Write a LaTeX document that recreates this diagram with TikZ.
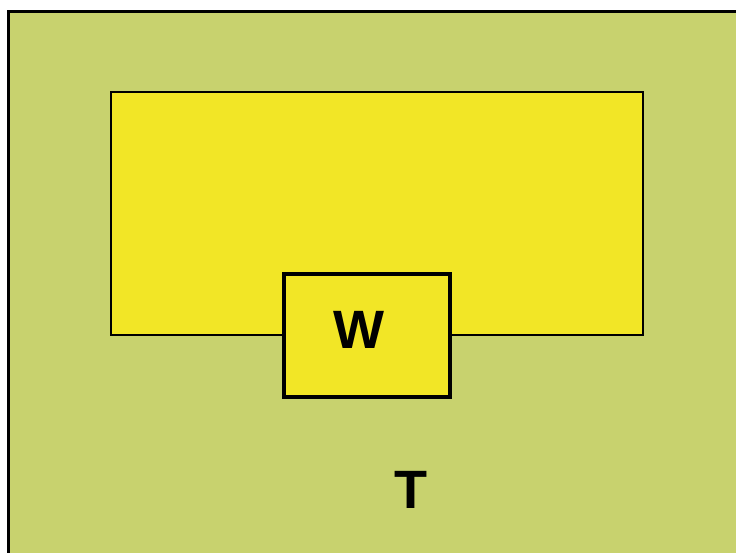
\documentclass[tikz,border=0pt]{standalone}
\usepackage{fontspec}
\setmainfont{Liberation Sans}
\definecolor{bggreen}{RGB}{200,210,110}
\definecolor{boxyellow}{RGB}{242,230,38}
\begin{document}
\begin{tikzpicture}[x=1pt,y=-1pt,
  lbl/.style={anchor=base,inner sep=0pt,font=\fontsize{54}{60}\selectfont\bfseries}]
\useasboundingbox (0,0) rectangle (736,552);
\fill[white] (0,0) rectangle (736,552);
\begin{scope}
\clip (0,0) rectangle (736,552);
\node[draw=black,line width=2.5pt,fill=bggreen,minimum width=745pt,minimum height=550pt,inner sep=0pt,anchor=north west] (outer) at (7,10) {};
\end{scope}
\node[draw=black,line width=2.4pt,fill=boxyellow,minimum width=532pt,minimum height=243pt,inner sep=0pt,anchor=north west] (big) at (109.5,91) {};
\node[draw=black,line width=4pt,fill=boxyellow,minimum width=166pt,minimum height=123pt,inner sep=0pt,anchor=north west] (w) at (282,272) {};
\node[lbl] (wl) at (358.5,348) {W};
\node[lbl] (tl) at (411,508) {T};
\end{tikzpicture}
\end{document}
